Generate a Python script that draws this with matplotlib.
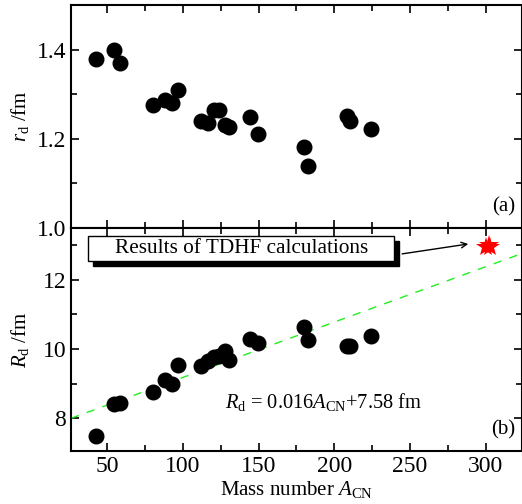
import matplotlib
matplotlib.use('Agg')
from matplotlib import pyplot as plt
from matplotlib.patches import Rectangle
from matplotlib.ticker import MultipleLocator
import numpy as np

plt.rcParams['font.family'] = ['Liberation Serif', 'DejaVu Serif']
plt.rcParams['mathtext.fontset'] = 'custom'
plt.rcParams['mathtext.rm'] = 'Liberation Serif'
plt.rcParams['mathtext.it'] = 'Liberation Serif:italic'

# mass number of compound nucleus
A_cn = [42.5, 54.6, 58.3, 80.3, 88, 92.8, 96.6, 112, 116.6, 120.5, 124,
        128, 130.5, 144.5, 149.5, 179.7, 182.5, 208.3, 210.5, 224.3]
# reduced radius r_d (fm)
r_d = [1.38, 1.40, 1.37, 1.275, 1.288, 1.28, 1.31, 1.239, 1.235, 1.265, 1.265,
       1.23, 1.226, 1.249, 1.21, 1.182, 1.139, 1.252, 1.239, 1.222]
# radius R_d (fm)
R_d = [7.49, 8.42, 8.44, 8.75, 9.09, 8.99, 9.55, 9.52, 9.64, 9.76, 9.80,
       9.93, 9.69, 10.30, 10.17, 10.64, 10.27, 10.08, 10.09, 10.37]
# TDHF results
A_tdhf = [300.5, 302.5, 303.0]
R_tdhf = [12.96, 13.02, 12.94]
# linear fit
slope = 0.016
icpt = 7.58

fig = plt.figure(figsize=(5.22, 5.04), dpi=100)
ax1 = fig.add_axes([0.136, 0.5476, 0.864, 0.4424])
ax2 = fig.add_axes([0.136, 0.1058, 0.864, 0.4418])

for ax in (ax1, ax2):
    ax.set_xlim(26, 324)
    ax.xaxis.set_major_locator(MultipleLocator(50))
    ax.xaxis.set_minor_locator(MultipleLocator(25))
    ax.tick_params(which='both', direction='in', top=True, right=True, labelsize=17, width=1.2)
    ax.tick_params(which='major', length=6)
    ax.tick_params(which='minor', length=4)
    for s in ax.spines.values():
        s.set_linewidth(1.5)

ax1.plot(A_cn, r_d, 'o', color='k', ms=10.5)
ax1.set_ylim(1.0, 1.5)
ax1.yaxis.set_major_locator(MultipleLocator(0.2))
ax1.yaxis.set_minor_locator(MultipleLocator(0.1))
ax1.tick_params(labelbottom=False)
ax1.set_ylabel(r'$r_{\rm d}$ /fm', fontsize=15, labelpad=4)
ax1.text(0.985, 0.05, '(a)', transform=ax1.transAxes, ha='right', va='bottom', fontsize=15)

xs = np.array([26, 324])
ax2.plot(xs, slope * xs + icpt, '--', color='#22ee22', lw=1.0, dashes=(6, 6))
ax2.plot(A_cn, R_d, 'o', color='k', ms=10.5)
ax2.plot(A_tdhf, R_tdhf, '*', color='red', ms=15, mew=0)
ax2.set_ylim(7.06, 13.5)
ax2.yaxis.set_major_locator(MultipleLocator(2))
ax2.yaxis.set_minor_locator(MultipleLocator(1))
ax2.set_ylabel(r'$R_{\rm d}$ /fm', fontsize=15, labelpad=8)
ax2.set_xlabel(r'Mass number $A_{\rm CN}$', fontsize=15, labelpad=2)
ax2.text(0.985, 0.05, '(b)', transform=ax2.transAxes, ha='right', va='bottom', fontsize=15)
ax2.text(193, 8.47, r'$R_{\rm d}$ = 0.016$A_{\rm CN}$+7.58 fm', ha='center', va='center', fontsize=14.7)

# legend-like box with shadow
bx0, bx1, by0, by1 = 37.2, 239.7, 12.54, 13.28
ax2.add_patch(Rectangle((bx0 + 3.3, by0 - 0.15), bx1 - bx0, by1 - by0, fc='k', ec='k', lw=1.0, zorder=4))
ax2.add_patch(Rectangle((bx0, by0), bx1 - bx0, by1 - by0, fc='white', ec='k', lw=1.0, zorder=5))
ax2.text((bx0 + bx1) / 2, (by0 + by1) / 2, 'Results of TDHF calculations', ha='center', va='center',
         fontsize=15.3, zorder=6)
ax2.annotate('', xy=(290.3, 13.05), xytext=(243, 12.74),
             arrowprops=dict(arrowstyle='->', color='k', lw=1.0))

fig.savefig('out.png', dpi=100)
